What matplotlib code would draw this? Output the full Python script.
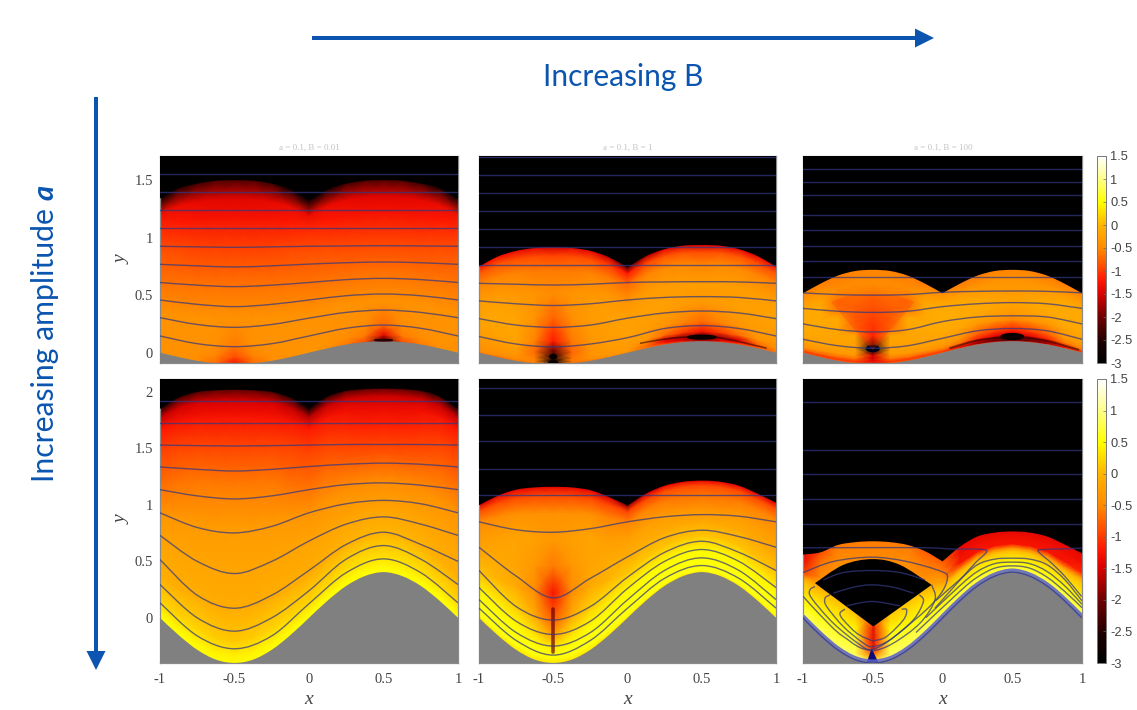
import numpy as np
import matplotlib
matplotlib.use('Agg')
import matplotlib.pyplot as plt
from matplotlib.colors import LinearSegmentedColormap
from matplotlib.patches import Ellipse, FancyArrow, PathPatch, Polygon
from matplotlib.path import Path

W, H = 1137, 710

# stations (x) for the field mesh and for the stream lines
xs = [-1, -.875, -.75, -.625, -.5, -.375, -.25, -.125, 0, .125, .25, .375, .5, .625, .75, .875, 1]
xl = [-1, -.75, -.5, -.25, 0, .25, .5, .75, 1]

ground_low = [0, -.038, -.071, -.092, -.1, -.092, -.071, -.038, 0, .038, .071, .092, .1, .092, .071, .038, 0]
ground_high = [0, -.153, -.283, -.37, -.4, -.37, -.283, -.153, 0, .153, .283, .37, .405, .37, .283, .153, 0]

# upper edge of the coloured region
top_a = [1.34, 1.43, 1.47, 1.495, 1.5, 1.495, 1.47, 1.42, 1.33, 1.42, 1.47, 1.495, 1.5, 1.495, 1.47, 1.43, 1.34]
top_b = [.748, .835, .885, .91, .916, .91, .885, .83, .742, .84, .90, .93, .936, .93, .90, .84, .748]
top_c = [.516, .60, .67, .71, .72, .71, .67, .60, .516, .60, .67, .71, .72, .71, .67, .60, .516]
top_d = [1.85, 1.95, 2.0, 2.015, 2.02, 2.015, 2.0, 1.95, 1.86, 1.96, 2.01, 2.025, 2.03, 2.025, 2.01, 1.96, 1.85]
top_e = [.997, 1.08, 1.135, 1.155, 1.16, 1.155, 1.13, 1.07, .994, 1.10, 1.17, 1.205, 1.215, 1.205, 1.17, 1.10, 1.02]
top_f = [.56, .58, .645, .67, .678, .67, .645, .59, .50, .63, .72, .755, .765, .755, .72, .65, .57]

# height fractions between ground and upper edge, one value column per x station
eta_a = [0, .04, .1, .25, .45, .65, .8, .9, 1]
z_a = [
    [-.45, -.45, -.42, -.42, -.65, -.85, -1.1, -1.3, -2.8],
    [-.45, -.45, -.42, -.42, -.67, -.92, -1.2, -1.35, -2.5],
    [-.5, -.45, -.42, -.42, -.68, -.97, -1.25, -1.4, -2.3],
    [-.7, -.55, -.45, -.42, -.68, -.98, -1.27, -1.42, -2.2],
    [-1.3, -.9, -.6, -.42, -.68, -.98, -1.27, -1.42, -2.2],
    [-.7, -.55, -.45, -.42, -.68, -.98, -1.27, -1.42, -2.2],
    [-.5, -.45, -.42, -.42, -.68, -.97, -1.25, -1.4, -2.3],
    [-.45, -.42, -.42, -.42, -.67, -.92, -1.2, -1.35, -2.6],
    [-.4, -.4, -.42, -.42, -.65, -.85, -1.1, -1.35, -3],
    [-.45, -.42, -.42, -.42, -.67, -.92, -1.2, -1.35, -2.6],
    [-.6, -.5, -.45, -.42, -.68, -.97, -1.25, -1.4, -2.3],
    [-.9, -.6, -.5, -.42, -.68, -.98, -1.27, -1.42, -2.2],
    [-2.5, -1.4, -.7, -.42, -.68, -.98, -1.27, -1.42, -2.2],
    [-.9, -.6, -.5, -.42, -.68, -.98, -1.27, -1.42, -2.2],
    [-.6, -.5, -.45, -.42, -.68, -.97, -1.25, -1.4, -2.3],
    [-.45, -.42, -.42, -.42, -.67, -.92, -1.2, -1.35, -2.5],
    [-.45, -.45, -.42, -.42, -.65, -.85, -1.1, -1.3, -2.8],
]

eta_b = [0, .02, .05, .1, .2, .4, .6, .8, .93, 1]
z_b = [
    [-.6, -.5, -.45, -.4, -.3, -.2, -.3, -.55, -.85, -1.3],
    [-.7, -.5, -.4, -.35, -.25, -.18, -.3, -.55, -.85, -1.3],
    [-.6, -.5, -.4, -.3, -.2, -.2, -.35, -.55, -.9, -1.35],
    [-.6, -.55, -.6, -.7, -.55, -.4, -.4, -.6, -.9, -1.4],
    [-2, -3, -2.5, -2.2, -1.2, -.75, -.5, -.6, -.95, -1.5],
    [-.7, -.6, -.65, -.75, -.6, -.45, -.4, -.6, -.9, -1.4],
    [-.6, -.5, -.4, -.4, -.35, -.3, -.35, -.55, -.9, -1.4],
    [-.5, -.4, -.35, -.3, -.3, -.25, -.35, -.6, -1, -1.6],
    [-.5, -.35, -.3, -.3, -.25, -.25, -.4, -.7, -1.2, -2.2],
    [-.6, -.7, -.6, -.35, -.3, -.25, -.3, -.55, -.95, -1.7],
    [-.8, -1.2, -1.5, -.7, -.4, -.25, -.3, -.5, -.85, -1.4],
    [-1, -1.5, -1.8, -1, -.55, -.3, -.3, -.5, -.85, -1.4],
    [-1.5, -2, -2.2, -1.3, -.7, -.35, -.3, -.55, -.9, -1.5],
    [-1, -1.5, -1.8, -1, -.55, -.3, -.3, -.5, -.85, -1.4],
    [-.8, -1.2, -1.5, -.7, -.4, -.25, -.3, -.5, -.85, -1.4],
    [-.7, -.9, -.7, -.4, -.3, -.25, -.3, -.55, -.9, -1.4],
    [-.6, -.6, -.45, -.4, -.3, -.2, -.3, -.55, -.85, -1.3],
]

eta_c = [0, .02, .05, .09, .15, .3, .38, .5, .6, .7, .85, 1]
z_c = [
    [-.7, -1, -.7, -.45, -.3, -.18, -.15, -.15, -.15, -.15, -.3, -.55],
    [-.8, -1, -.7, -.4, -.25, -.18, -.15, -.15, -.15, -.15, -.35, -.6],
    [-.8, -1, -.65, -.35, -.25, -.2, -.18, -.15, -.6, -.65, -.5, -.6],
    [-.8, -1, -.65, -.35, -.25, -.2, -.7, -.75, -.7, -.6, -.5, -.55],
    [-1.6, -1.3, -1.5, -1.5, -3, -1.2, -1.05, -.9, -.8, -.7, -.5, -.55],
    [-.8, -1, -.65, -.35, -.25, -.2, -.7, -.75, -.7, -.6, -.5, -.55],
    [-.8, -1, -.65, -.35, -.25, -.2, -.18, -.15, -.6, -.65, -.5, -.6],
    [-.8, -1, -.7, -.4, -.25, -.18, -.15, -.15, -.15, -.15, -.35, -.6],
    [-.7, -1, -.7, -.45, -.3, -.18, -.12, -.1, -.1, -.1, -.2, -.5],
    [-.8, -1.4, -1, -.6, -.4, -.22, -.15, -.12, -.12, -.15, -.35, -.6],
    [-1, -1.8, -1.6, -1.1, -.8, -.35, -.22, -.15, -.15, -.25, -.4, -.6],
    [-1.2, -2, -2, -1.4, -1, -.45, -.3, -.2, -.2, -.3, -.4, -.55],
    [-1.4, -2.2, -2.2, -1.6, -1.2, -.55, -.38, -.25, -.25, -.35, -.4, -.55],
    [-1.2, -2, -2, -1.4, -1, -.45, -.3, -.2, -.2, -.3, -.4, -.55],
    [-1, -1.8, -1.6, -1.1, -.8, -.35, -.22, -.15, -.15, -.25, -.4, -.6],
    [-.8, -1.4, -1, -.6, -.4, -.22, -.15, -.12, -.12, -.15, -.35, -.6],
    [-.7, -1, -.7, -.45, -.3, -.18, -.15, -.15, -.15, -.15, -.3, -.55],
]

eta_d = [0, .03, .08, .2, .35, .5, .65, .8, .9, .96, 1]
z_d = [
    [.5, .42, .2, -.08, -.2, -.4, -.7, -.95, -1.2, -1.6, -2.5],
    [.5, .42, .2, -.08, -.2, -.38, -.65, -.95, -1.25, -1.55, -2.3],
    [.5, .42, .2, -.08, -.2, -.35, -.62, -.95, -1.25, -1.5, -2.2],
    [.48, .4, .15, -.1, -.2, -.33, -.6, -.95, -1.25, -1.5, -2.1],
    [.45, .38, .12, -.1, -.2, -.32, -.6, -.95, -1.25, -1.5, -2.1],
    [.48, .4, .15, -.1, -.2, -.33, -.6, -.95, -1.25, -1.5, -2.1],
    [.5, .42, .2, -.08, -.2, -.35, -.62, -.95, -1.25, -1.5, -2.2],
    [.5, .42, .2, -.08, -.2, -.38, -.68, -.95, -1.25, -1.6, -2.4],
    [.5, .42, .2, -.08, -.2, -.4, -.7, -.95, -1.2, -1.7, -3],
    [.5, .45, .25, -.05, -.22, -.42, -.72, -1, -1.25, -1.6, -2.4],
    [.5, .45, .28, 0, -.22, -.48, -.8, -1.1, -1.3, -1.55, -2.2],
    [.5, .45, .3, .02, -.22, -.5, -.85, -1.15, -1.35, -1.55, -2.1],
    [.5, .45, .3, .02, -.22, -.5, -.85, -1.15, -1.35, -1.55, -2.1],
    [.5, .45, .3, .02, -.22, -.5, -.85, -1.15, -1.35, -1.55, -2.1],
    [.5, .45, .28, 0, -.22, -.48, -.8, -1.1, -1.3, -1.55, -2.2],
    [.5, .45, .25, -.05, -.22, -.42, -.72, -1, -1.25, -1.6, -2.3],
    [.5, .42, .2, -.08, -.2, -.4, -.7, -.95, -1.2, -1.6, -2.5],
]

eta_e = [0, .03, .08, .15, .25, .4, .55, .7, .85, .95, 1]
z_e = [
    [.35, .55, .55, .5, .42, .08, -.15, -.3, -.5, -.9, -1.5],
    [.35, .55, .55, .5, .35, 0, -.15, -.25, -.5, -.9, -1.4],
    [.35, .55, .55, .48, .2, -.15, -.2, -.2, -.45, -.9, -1.4],
    [.35, .55, .5, .3, -.1, -.5, -.35, -.25, -.45, -.9, -1.4],
    [.35, .5, .4, -.2, -.8, -1.25, -.6, -.35, -.45, -.9, -1.4],
    [.35, .55, .5, .3, -.1, -.5, -.35, -.25, -.45, -.9, -1.4],
    [.35, .55, .55, .48, .2, -.15, -.2, -.2, -.45, -.9, -1.4],
    [.35, .55, .55, .5, .35, 0, -.15, -.3, -.55, -.95, -1.5],
    [.35, .55, .55, .5, .45, .12, -.1, -.25, -.55, -.95, -1.9],
    [.35, .55, .55, .5, .45, .12, -.1, -.25, -.55, -.95, -1.5],
    [.35, .55, .55, .5, .45, .1, -.12, -.3, -.6, -.9, -1.4],
    [.35, .55, .55, .5, .45, .1, -.15, -.4, -.65, -.9, -1.4],
    [.35, .55, .55, .5, .45, .1, -.15, -.4, -.65, -.9, -1.4],
    [.35, .55, .55, .5, .45, .1, -.15, -.4, -.65, -.9, -1.4],
    [.35, .55, .55, .5, .45, .1, -.12, -.3, -.6, -.9, -1.4],
    [.35, .55, .55, .5, .42, .08, -.15, -.3, -.55, -.9, -1.4],
    [.35, .55, .55, .5, .42, .08, -.15, -.3, -.5, -.9, -1.5],
]

eta_f = [0, .05, .12, .25, .4, .55, .62, .7, .85, 1]
z_f = [
    [.9, .8, .7, .45, .3, .1, -.1, -.9, -1.3, -1.4],
    [.9, .8, .7, .45, .3, 0, -.3, -.5, -.6, -.9],
    [.9, .8, .7, .45, .2, -.1, -.3, -.45, -.5, -.6],
    [.9, .8, .7, .45, .1, -.2, -.4, -.5, -.5, -.6],
    [.9, -.5, -1.2, -1.3, -.5, -.5, -.5, -.5, -.5, -.6],
    [.9, .8, .7, .45, .1, -.2, -.4, -.5, -.5, -.6],
    [.9, .8, .7, .45, .2, -.1, -.3, -.45, -.5, -.6],
    [.9, .8, .7, .45, .3, 0, -.3, -.5, -.6, -.8],
    [.9, .8, .7, .45, .3, .05, -.2, -.35, -.6, -.8],
    [.9, .8, .7, .45, .3, 0, -.7, -1.25, -1.3, -1.4],
    [.9, .8, .7, .45, .3, 0, -.6, -1.25, -1.3, -1.4],
    [.9, .8, .7, .45, .3, 0, -.6, -1.25, -1.3, -1.4],
    [.9, .8, .7, .45, .3, 0, -.6, -1.25, -1.3, -1.4],
    [.9, .8, .7, .45, .3, 0, -.6, -1.25, -1.3, -1.4],
    [.9, .8, .7, .45, .3, 0, -.6, -1.25, -1.3, -1.4],
    [.9, .8, .7, .45, .3, 0, -.7, -1.25, -1.3, -1.4],
    [.9, .8, .7, .45, .3, .1, -.3, -1.1, -1.3, -1.4],
]

# stream lines read at the xl stations, straight ones as a single level
lines_a = [
    [.145, .078, .052, .078, .145, .212, .24, .212, .145],
    [.304, .245, .22, .245, .30, .35, .37, .35, .304],
    [.458, .42, .40, .42, .458, .495, .51, .495, .458],
    [.61, .587, .574, .587, .61, .635, .646, .635, .61],
    [.768, .755, .745, .755, .77, .782, .788, .782, .768],
    [.925, .92, .916, .92, .925, .928, .93, .928, .925],
]
levels_a = [1.08, 1.238, 1.394, 1.55]

lines_b = [
    [.14, .075, .05, .075, .13, .21, .235, .21, .145],
    [.296, .24, .22, .24, .30, .345, .362, .345, .296],
    [.45, .425, .41, .425, .458, .48, .487, .48, .45],
    [.603, .595, .588, .595, .61, .615, .617, .615, .603],
]
levels_b = [.762, .919, 1.075, 1.23, 1.39, 1.545, 1.70]

lines_c = [
    [.116, .06, .038, .06, .125, .19, .21, .19, .116],
    [.25, .20, .18, .20, .27, .31, .32, .31, .25],
    [.385, .36, .35, .36, .40, .425, .435, .425, .385],
    [.52, .505, .50, .505, .525, .533, .536, .533, .52],
]
levels_c = [.66, .794, .93, 1.066, 1.2, 1.368, 1.484, 1.6]

lines_d = [
    [.133, -.16, -.274, -.16, .125, .40, .522, .40, .133],
    [.295, 0, -.118, 0, .24, .52, .64, .52, .295],
    [.516, .2, .085, .2, .42, .65, .758, .65, .50],
    [.73, .50, .392, .50, .68, .83, .894, .83, .73],
    [.93, .80, .752, .81, .93, 1.01, 1.04, 1.01, .93],
    [1.135, 1.08, 1.053, 1.08, 1.135, 1.18, 1.195, 1.175, 1.135],
    [1.336, 1.315, 1.30, 1.315, 1.34, 1.36, 1.37, 1.36, 1.336],
    [1.53, 1.525, 1.522, 1.525, 1.53, 1.535, 1.535, 1.535, 1.53],
]
levels_d = [1.726, 1.923]

lines_e = [
    [.086, -.20, -.33, -.20, .085, .35, .463, .35, .086],
    [.162, -.13, -.25, -.13, .16, .42, .531, .42, .162],
    [.268, -.03, -.147, -.03, .26, .50, .605, .50, .268],
    [.419, .10, -.02, .10, .36, .58, .678, .58, .419],
    [.625, .37, .177, .35, .54, .71, .776, .72, .625],
    [.85, .78, .758, .79, .85, .895, .914, .90, .85],
]
levels_e = [1.086, 1.32, 1.57, 1.8, 2.035]

levels_f = [.835, 1.053, 1.274, 1.484, 1.908]

# dark thin bands over the ground crest in the top row
band_b_x = [.084, .286, .466, .6, .8, .937]
band_b_y = [.081, .125, .139, .133, .081, .038]
band_c_x = [.05, .24, .43, .58, .77, .98]
band_c_y = [.038, .104, .133, .133, .096, .023]

# red fan over the valley in the top right panel
fan_x = [-.5, -.80, -.65, -.35, -.20]
fan_y = [.02, .44, .51, .51, .44]

# panel f curves, each one x list and y list
top_line_x = [-1, -.5, -.1, .09, .257, .317, .233, .137, .042, -.054]
top_line_y = [.62, .622, .62, .608, .608, .587, .484, .351, .219, .086]
hook_right_x = [.997, .85, .72, .687, .782, .878, .997]
hook_right_y = [.617, .61, .605, .587, .484, .366, .189]
hook_1_x = [-.699, -.735, -.711, -.615, -.519, -.484, -.4, -.28, -.257, -.292]
hook_1_y = [.077, .041, -.018, -.136, -.195, -.2, -.165, -.018, .071, .077]
hook_2_x = [-.806, -.842, -.83, -.711, -.567, -.496, -.376, -.209, -.137, -.166]
hook_2_y = [.204, .174, .10, -.077, -.224, -.254, -.195, -.018, .145, .204]
hook_3_x = [-.914, -.95, -.938, -.783, -.591, -.496, -.352, -.161, -.054, -.078]
hook_3_y = [.277, .248, .174, -.047, -.239, -.289, -.224, -.047, .159, .292]
hook_4_x = [-.998, -.783, -.508, -.257, -.006, .035, -.018, -.185, -.496, -.711, -.878, -.998]
hook_4_y = [.401, .499, .537, .499, .41, .351, .204, -.003, -.277, -.165, .027, .189]
over_1_x = [-.05, .125, .25, .375, .5, .625, .75, .875, 1]
over_1_y = [.15, .34, .47, .52, .528, .52, .47, .34, .15]
over_2_x = [-.12, .125, .25, .375, .5, .625, .75, .875, 1]
over_2_y = [.0, .285, .41, .48, .493, .48, .41, .285, .12]
over_3_x = [-.19, .125, .25, .375, .5, .625, .75, .875, 1]
over_3_y = [-.13, .235, .36, .44, .46, .44, .36, .235, .09]
arc_1_x = [-.854, -.711, -.508, -.305, -.127]
arc_1_y = [.336, .401, .419, .401, .336]
arc_2_x = [-.783, -.639, -.508, -.352, -.209]
arc_2_y = [.218, .271, .292, .271, .218]
arc_3_x = [-.687, -.508, -.305]
arc_3_y = [.106, .145, .106]
hole_top_x = [-.914, -.711, -.5, -.305, -.078]
hole_top_y = [.307, .469, .52, .469, .292]
hole_low_x = -.496
hole_low_y = -.077
wedge_x = [-.508, -.543, -.46]
wedge_y = [-.27, -.395, -.395]

cbar_ticks = [-3, -2.5, -2, -1.5, -1, -.5, 0, .5, 1, 1.5]
cmap_vals = [-3, -2.6, -2, -1.5, -1.2, -.9, -.5, 0, .5, 1, 1.5]
cmap_cols = ['#000000', '#180000', '#700000', '#d80000', '#ff1800', '#ff4a00',
             '#ff8c00', '#ffb400', '#ffff00', '#ffff88', '#ffffff']

titles = ['a = 0.1, B = 0.01', 'a = 0.1, B = 1', 'a = 0.1, B = 100']

plt.rcParams['axes.unicode_minus'] = False
blue = '#0b55b0'
line_col = (0.2, 0.22, 0.5, 0.72)
hot = LinearSegmentedColormap.from_list(
    'hotish', [((v + 3) / 4.5, c) for v, c in zip(cmap_vals, cmap_cols)])


def box(x0, y0, x1, y1):
    return [x0 / W, 1 - y1 / H, (x1 - x0) / W, (y1 - y0) / H]


def bezier(x, y):
    # catmull-rom through the read points, as bezier vertices (no start point)
    p = np.column_stack([x, y])
    p = np.vstack([p[0], p, p[-1]])
    verts = []
    for i in range(1, len(p) - 2):
        verts += [p[i] + (p[i + 1] - p[i - 1]) / 6, p[i + 1] - (p[i + 2] - p[i]) / 6, p[i + 1]]
    return verts


def curve(ax, x, y, color=line_col, lw=1.0):
    v = bezier(x, y)
    path = Path([(x[0], y[0])] + v, [Path.MOVETO] + [Path.CURVE4] * len(v))
    ax.add_patch(PathPatch(path, fill=False, ec=color, lw=lw, zorder=5))


def edge_patch(ax, y, ylim_edge, color):
    # filled smooth shape between a curve and a horizontal edge, split at the cusp x=0
    v1 = bezier(xs[:9], y[:9])
    v2 = bezier(xs[8:], y[8:])
    verts = [(-1, ylim_edge), (-1, y[0])] + v1 + v2 + [(1, ylim_edge), (-1, ylim_edge)]
    codes = [Path.MOVETO, Path.LINETO] + [Path.CURVE4] * (len(v1) + len(v2)) + [Path.LINETO, Path.CLOSEPOLY]
    ax.add_patch(PathPatch(Path(verts, codes), fc=color, ec='none', lw=0, zorder=3))


def panel(pos, ylim, ground, top, eta, z, lines, levels, yticks=None, xlabels=False):
    ax = fig.add_axes(box(*pos))
    ax.set_facecolor('#808080')
    g = np.array(ground)
    t = np.array(top)
    # mesh runs a little past both edges, the smooth shapes on top cut it clean
    rows = [eta[0] - .04] + list(eta) + [eta[-1] + .05]
    zz = np.array(z).T
    zz = np.vstack([zz[0], zz, zz[-1]])
    X = np.tile(np.array(xs), (len(rows), 1))
    Y = np.array([g + e * (t - g) for e in rows])
    m = ax.pcolormesh(X, Y, zz, shading='gouraud', cmap=hot, vmin=-3, vmax=1.5, zorder=2)
    edge_patch(ax, top, ylim[1], 'black')
    edge_patch(ax, ground, ylim[0], '#808080')
    for ys in lines:
        curve(ax, xl, ys)
    for lev in levels:
        ax.plot([-1, 1], [lev, lev], color=line_col, lw=1.0, zorder=5)
    ax.set_xlim(-1, 1)
    ax.set_ylim(*ylim)
    ax.set_xticks([-1, -.5, 0, .5, 1])
    if xlabels:
        ax.set_xticklabels(['-1', '-0.5', '0', '0.5', '1'], family='Liberation Serif', fontsize=10.5, color='#444444')
    else:
        ax.set_xticklabels([])
    if yticks:
        ax.set_yticks(yticks)
        ax.set_yticklabels(['%g' % v for v in yticks], family='Liberation Serif', fontsize=10.5, color='#444444')
    else:
        ax.set_yticks([])
    ax.tick_params(direction='in', length=2, width=.6, color='#555555', pad=5)
    ax.tick_params(axis='x', pad=7)
    for s in ax.spines.values():
        s.set_color('#8a8a8a')
        s.set_linewidth(.9)
    return ax, m


fig = plt.figure(figsize=(W / 100, H / 100), dpi=100, facecolor='white')

low = (-.09, 1.71)
high = (-.4, 2.115)
col1, col2, col3 = (160, 458), (479, 776), (803, 1082)
row1, row2 = (156, 363), (379, 663)

ax_a, _ = panel((col1[0], row1[0], col1[1], row1[1]), low, ground_low, top_a, eta_a, z_a, lines_a, levels_a, yticks=[0, .5, 1, 1.5])
ax_b, _ = panel((col2[0], row1[0], col2[1], row1[1]), low, ground_low, top_b, eta_b, z_b, lines_b, levels_b)
ax_c, m_c = panel((col3[0], row1[0], col3[1], row1[1]), low, ground_low, top_c, eta_c, z_c, lines_c, levels_c)
ax_d, _ = panel((col1[0], row2[0], col1[1], row2[1]), high, ground_high, top_d, eta_d, z_d, lines_d, levels_d, yticks=[0, .5, 1, 1.5, 2], xlabels=True)
ax_e, _ = panel((col2[0], row2[0], col2[1], row2[1]), high, ground_high, top_e, eta_e, z_e, lines_e, levels_e, xlabels=True)
ax_f, m_f = panel((col3[0], row2[0], col3[1], row2[1]), high, ground_high, top_f, eta_f, z_f, [], levels_f, xlabels=True)

# small dark spots and bands on the ground
curve(ax_b, band_b_x, band_b_y, color=(.1, 0, 0, .55), lw=1.1)
curve(ax_c, band_c_x, band_c_y, color=(.1, 0, 0, .55), lw=1.4)
ax_a.add_patch(Ellipse((.5, .108), .12, .012, color='#300000', zorder=4))
ax_b.add_patch(Ellipse((.5, .135), .19, .032, color='#050000', zorder=4))
ax_b.add_patch(Ellipse((-.5, -.035), .045, .035, color='#050000', zorder=4))
ax_b.add_patch(Ellipse((-.5, -.085), .06, .025, color='#050000', zorder=4))
ax_c.add_patch(Ellipse((.5, .14), .16, .05, color='#050000', zorder=4))
ax_c.add_patch(Ellipse((-.5, .035), .09, .05, color='#000018', zorder=4))
ax_c.add_patch(Polygon(np.column_stack([fan_x, fan_y]), fc='#ff3000', ec='none', alpha=.25, zorder=4))

# red plume in the middle lower panel
ax_e.plot([-.5, -.5], [-.3, .08], color='#6a0000', lw=2.6, alpha=.7, solid_capstyle='round', zorder=4)

# panel f: hole, wedge, blue fringe and closed curves
curve(ax_f, xs, [v + .012 for v in ground_high], color=(.35, .38, .78, .85), lw=3.2)
curve(ax_f, xs, ground_high, color=(.23, .23, .44, .8), lw=.8)
hole_v = bezier(hole_top_x, hole_top_y)
hole_path = Path([(hole_top_x[0], hole_top_y[0])] + hole_v + [(hole_low_x, hole_low_y), (hole_top_x[0], hole_top_y[0])],
                 [Path.MOVETO] + [Path.CURVE4] * len(hole_v) + [Path.LINETO, Path.CLOSEPOLY])
ax_f.add_patch(PathPatch(hole_path, fc='black', ec='none', lw=0, zorder=4))
ax_f.add_patch(Polygon(np.column_stack([wedge_x, wedge_y]), color='#0c0c78', lw=0, zorder=4))
ax_f.plot([-.5, -.5], [-.08, -.26], color='#e02000', lw=2, zorder=4)
for cx, cy in [(top_line_x, top_line_y), (hook_right_x, hook_right_y), (hook_1_x, hook_1_y),
               (hook_2_x, hook_2_y), (hook_3_x, hook_3_y), (hook_4_x, hook_4_y),
               (over_1_x, over_1_y), (over_2_x, over_2_y), (over_3_x, over_3_y),
               (arc_1_x, arc_1_y), (arc_2_x, arc_2_y), (arc_3_x, arc_3_y)]:
    curve(ax_f, cx, cy)

# colour bars
for mesh, row in [(m_c, row1), (m_f, row2)]:
    cax = fig.add_axes(box(1097, row[0], 1106, row[1]))
    cb = fig.colorbar(mesh, cax=cax, ticks=cbar_ticks)
    cb.ax.set_yticklabels(['%g' % v for v in cbar_ticks], family='Liberation Sans', fontsize=9.3, color='#444444')
    cb.ax.tick_params(direction='in', length=2, width=.5, color='#666666', pad=3)
    cb.outline.set_edgecolor('#777777')
    cb.outline.set_linewidth(.7)

# axis names and faint panel titles
for ty in [260, 520]:
    fig.text(122 / W, 1 - ty / H, 'y', family='Liberation Serif', style='italic', fontsize=14,
             rotation=90, ha='center', va='center', color='#444444')
for tx in [309, 628, 943]:
    fig.text(tx / W, 1 - 699 / H, 'x', family='Liberation Serif', style='italic', fontsize=14,
             ha='center', va='center', color='#444444')
for tx, t in zip([309, 628, 943], titles):
    fig.text(tx / W, 1 - 148 / H, t, family='Liberation Serif', fontsize=6.5, ha='center',
             va='center', color='#c4c4c4')

# arrows and headings
fig.add_artist(FancyArrow(312 / W, 1 - 38 / H, 622 / W, 0, width=4 / H, head_width=19 / H,
                          head_length=19 / W, length_includes_head=True,
                          color=blue, lw=0, transform=fig.transFigure))
fig.add_artist(FancyArrow(96 / W, 1 - 97 / H, 0, -573 / H, width=4 / W, head_width=19 / W,
                          head_length=19 / H, length_includes_head=True,
                          color=blue, lw=0, transform=fig.transFigure))
fig.text(623 / W, 1 - 77 / H, 'Increasing B', family='Lato', fontsize=21.5, color=blue, ha='center', va='center')
fig.text(45 / W, 1 - 345 / H, 'Increasing amplitude', family='Lato', fontsize=21.7, color=blue,
         rotation=90, ha='center', va='center')
fig.text(45 / W, 1 - 192 / H, 'a', family='Lato', fontsize=21, color=blue, weight='bold', style='italic',
         rotation=90, ha='center', va='center')

fig.savefig('out.png', dpi=100)
